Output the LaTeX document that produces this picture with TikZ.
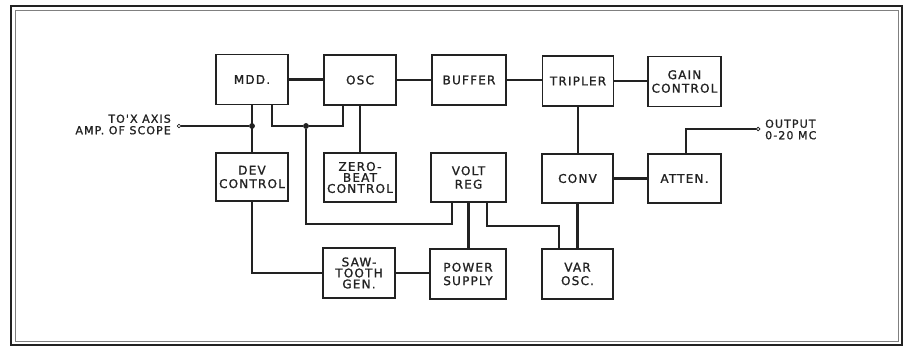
\documentclass[tikz,border=0pt]{standalone}
\usepackage{fontspec}
\newfontfamily\lbl[LetterSpace=10,FakeBold=1.2]{DejaVu Sans}
\definecolor{ink}{HTML}{222222}
\begin{document}
\begin{tikzpicture}[x=1pt,y=-1pt,
  box/.style={draw=ink, line width=1.6pt, minimum width=72pt, minimum height=50pt,
    align=center, inner sep=0pt, text=ink, font=\lbl\fontsize{12}{13.5}\selectfont},
  tight/.style={font=\lbl\fontsize{12}{11}\selectfont},
  wire/.style={draw=ink, line width=2.2pt},
  jdot/.style={circle, fill=ink, inner sep=0pt, minimum size=5.5pt},
  term/.style={circle, draw=ink, line width=0.7pt, fill=white, inner sep=0pt, minimum size=3.5pt},
  outlbl/.style={text=ink, inner sep=0pt, font=\lbl\fontsize{11}{11.5}\selectfont}]
\useasboundingbox (0,0) rectangle (907,347);
\fill[white] (0,0) rectangle (907,347);
% frame
\draw[ink, line width=2.2pt] (11,6) rectangle (902,345);
\draw[gray, line width=0.6pt] (15,10) rectangle (898,341);
% boxes
\node[box] (mdd) at (252,79.5) {MDD.};
\node[box] (osc) at (360,80) {OSC};
\node[box, minimum width=74pt] (buf) at (469,80) {BUFFER};
\node[box, minimum width=71pt] (tri) at (578,81) {TRIPLER};
\node[box, minimum width=73pt] (gain) at (684.5,81.5) {GAIN\\CONTROL};
\node[box, minimum height=48pt] (dev) at (252,177) {DEV\\CONTROL};
\node[box, tight, minimum height=49pt] (zero) at (360,177.5) {ZERO-\\BEAT\\CONTROL};
\node[box, minimum width=75pt, minimum height=49pt] (volt) at (468.5,177.5) {VOLT\\REG};
\node[box, minimum width=71pt, minimum height=49pt] (conv) at (577.5,178.5) {CONV};
\node[box, minimum width=73pt, minimum height=49pt] (atten) at (684.5,178.5) {ATTEN.};
\node[box, tight] (saw) at (359,273) {SAW-\\TOOTH\\GEN.};
\node[box, minimum width=76pt] (pwr) at (468,274) {POWER\\SUPPLY};
\node[box, minimum width=71pt] (var) at (577.5,274) {VAR\\OSC.};
% terminals and junctions
\node[term] (xin) at (179,126) {};
\node[jdot] (j1) at (252,126) {};
\node[jdot] (j2) at (306,126) {};
\node[term] (out) at (758,129) {};
\coordinate (c1) at (306,224);
\coordinate (c2) at (559,226);
% top row chain
\draw[wire] (mdd.east) -- (mdd.east -| osc.west);
\draw[wire] (osc.east) -- (osc.east -| buf.west);
\draw[wire] (buf.east) -- (buf.east -| tri.west);
\draw[wire] (tri.east) -- (tri.east -| gain.west);
% left network
\draw[wire] (xin) -- (j1);
\draw[wire] (mdd.south) -- (dev.north);
\draw[wire] ([xshift=20pt]mdd.south) |- (j2) -| ([xshift=-17pt]osc.south);
\draw[wire] (j2) -- (c1) -| ([xshift=-16.5pt]volt.south);
\draw[wire] (osc.south) -- (zero.north);
\draw[wire] (volt.south) -- (volt.south |- pwr.north);
\draw[wire] ([xshift=18.5pt]volt.south) |- (c2) -- (c2 |- var.north);
\draw[wire] (tri.south) -- (tri.south |- conv.north);
\draw[wire] (conv.south) -- (var.north);
\draw[wire] (conv.east) -- (conv.east -| atten.west);
\draw[wire] ([xshift=1.5pt]atten.north) |- (out);
\draw[wire] (dev.south) |- (saw.west);
\draw[wire] (saw.east) -- (saw.east -| pwr.west);
% redraw junctions and terminals on top
\node[jdot] at (j1) {};
\node[jdot] at (j2) {};
\node[term] at (xin) {};
\node[term] at (out) {};
% outside labels
\node[outlbl, anchor=east, align=right] (inlbl) at (171,124.5) {TO'X AXIS\\AMP. OF SCOPE};
\node[outlbl, anchor=west, align=left] (outl) at (765,129.5) {OUTPUT\\0-20 MC};
\end{tikzpicture}
\end{document}
